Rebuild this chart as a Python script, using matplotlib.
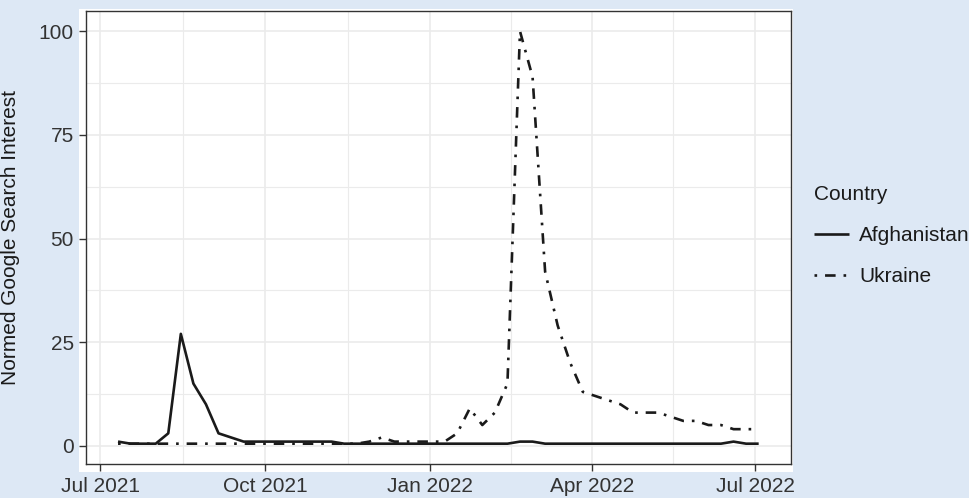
import matplotlib
matplotlib.use("Agg")
import matplotlib.pyplot as plt
import matplotlib.dates as mdates
from matplotlib.patches import Rectangle
from matplotlib.ticker import FixedLocator
import pandas as pd

# weekly google trends values
weeks = pd.to_datetime([
    "2021-07-11", "2021-07-18", "2021-07-25", "2021-08-01", "2021-08-08", "2021-08-15",
    "2021-08-22", "2021-08-29", "2021-09-05", "2021-09-12", "2021-09-19", "2021-09-26",
    "2021-10-03", "2021-10-10", "2021-10-17", "2021-10-24", "2021-10-31", "2021-11-07",
    "2021-11-14", "2021-11-21", "2021-11-28", "2021-12-05", "2021-12-12", "2021-12-19",
    "2021-12-26", "2022-01-02", "2022-01-09", "2022-01-16", "2022-01-23", "2022-01-30",
    "2022-02-06", "2022-02-13", "2022-02-20", "2022-02-27", "2022-03-06", "2022-03-13",
    "2022-03-20", "2022-03-27", "2022-04-03", "2022-04-10", "2022-04-17", "2022-04-24",
    "2022-05-01", "2022-05-08", "2022-05-15", "2022-05-22", "2022-05-29", "2022-06-05",
    "2022-06-12", "2022-06-19", "2022-06-26", "2022-07-03",
])

afghanistan = [1, 0.5, 0.5, 0.5, 3, 27, 15, 10, 3, 2,
               1, 1, 1, 1, 1, 1, 1, 1,
               0.5, 0.5, 0.5, 0.5, 0.5, 0.5, 0.5, 0.5, 0.5, 0.5, 0.5, 0.5, 0.5, 0.5,
               1, 1,
               0.5, 0.5, 0.5, 0.5, 0.5, 0.5, 0.5, 0.5, 0.5, 0.5, 0.5, 0.5, 0.5, 0.5, 0.5,
               1, 0.5, 0.5]

ukraine = [0.5, 0.5, 0.5, 0.5, 0.5, 0.5, 0.5, 0.5, 0.5, 0.5,
           0.5, 0.5, 0.5, 0.5, 0.5, 0.5, 0.5, 0.5, 0.5, 0.5,
           1, 2, 1, 1, 1, 1, 1,
           3, 9, 5, 8, 15, 100, 89, 42, 29, 20, 13, 12, 11, 10,
           8, 8, 8, 7, 6, 6, 5, 5, 4, 4, 4]

major_dates = pd.to_datetime(["2021-07-01", "2021-10-01", "2022-01-01", "2022-04-01", "2022-07-01"])
y_ticks = [0, 25, 50, 75, 100]

BG = "#dde8f5"
INK = "#1a1a1a"
FS = 15

plt.rcParams["font.family"] = ["Liberation Sans", "DejaVu Sans"]

W, H = 969, 498
fig = plt.figure(figsize=(W / 100, H / 100), dpi=100, facecolor=BG)
fig.add_artist(Rectangle((79 / W, 1 - 472 / H), (793 - 79) / W, (472 - 9) / H,
                         transform=fig.transFigure, facecolor="white",
                         edgecolor="none", zorder=-1))
ax = fig.add_axes([86 / W, 1 - 464.3 / H, (790.7 - 86) / W, (464.3 - 10.7) / H])

ax.plot(weeks, afghanistan, color=INK, lw=1.9, solid_capstyle="butt",
        solid_joinstyle="round", label="Afghanistan")
ax.plot(weeks, ukraine, color=INK, lw=1.9, dashes=(1, 3, 4, 3),
        dash_capstyle="butt", label="Ukraine")

# ggplot-style 5% expansion
xnum = mdates.date2num(weeks)
pad = (xnum[-1] - xnum[0]) * 0.05
ax.set_xlim(xnum[0] - pad, xnum[-1] + pad)
ylo, yhi = min(afghanistan + ukraine), max(afghanistan + ukraine)
ypad = (yhi - ylo) * 0.05
ax.set_ylim(ylo - ypad, yhi + ypad)

maj = mdates.date2num(major_dates)
ax.set_xticks(maj)
ax.set_xticklabels([d.strftime("%b %Y") for d in major_dates])
ax.xaxis.set_minor_locator(FixedLocator((maj[:-1] + maj[1:]) / 2))
ax.set_yticks(y_ticks)
ax.yaxis.set_minor_locator(FixedLocator([12.5, 37.5, 62.5, 87.5]))

ax.grid(which="major", color="#ebebeb", lw=1.2)
ax.grid(which="minor", color="#ebebeb", lw=0.8)
ax.set_axisbelow(True)

ax.tick_params(which="major", length=4.8, width=1.0, color="#333333",
               labelsize=FS, labelcolor="#333333", pad=4)
ax.tick_params(which="minor", length=0)
for s in ax.spines.values():
    s.set_color("#333333")
    s.set_linewidth(1.0)

ax.set_ylabel("Normed Google Search Interest", fontsize=FS, color=INK)
ax.yaxis.set_label_coords((20.5 - 86) / (790.7 - 86), 0.5)

leg = ax.legend(title="Country", loc="upper left", frameon=False,
                bbox_to_anchor=(804 / W, 1 - 175 / H), bbox_transform=fig.transFigure,
                fontsize=FS, title_fontsize=FS, handlelength=1.65,
                handletextpad=0.5, labelspacing=1.05, borderpad=0, alignment="left")
for t in leg.get_texts():
    t.set_color(INK)
leg.get_title().set_color(INK)

fig.savefig("out.png", dpi=100, facecolor=BG)
